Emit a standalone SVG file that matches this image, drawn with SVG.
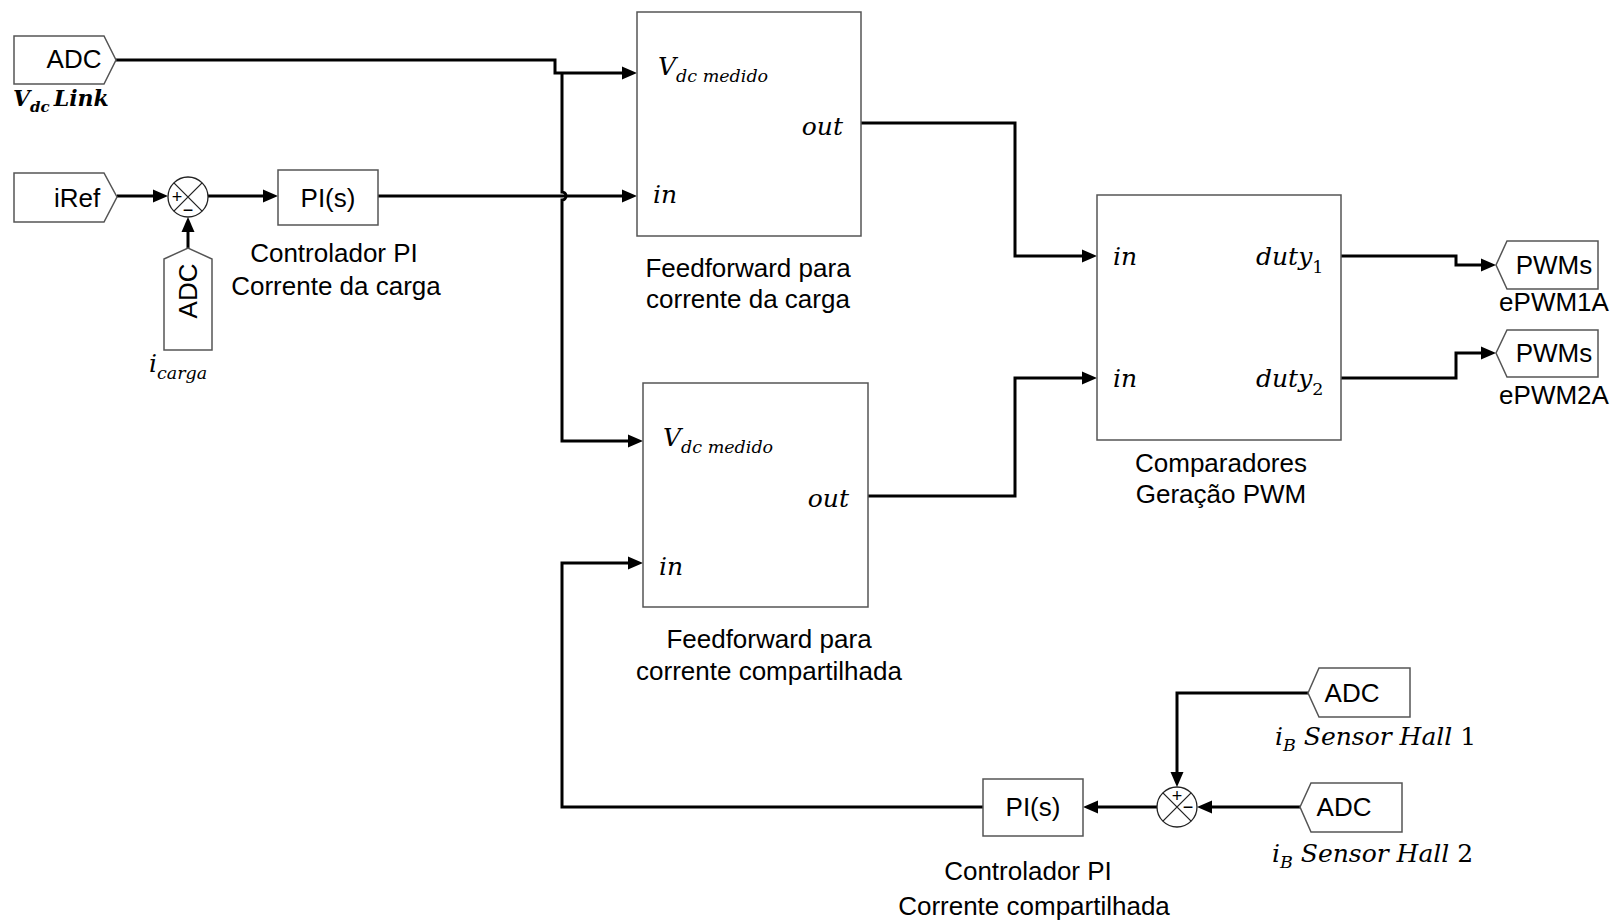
<svg xmlns="http://www.w3.org/2000/svg" width="1616" height="923" viewBox="0 0 1616 923">
<defs>
<marker id="ah" markerWidth="16" markerHeight="14" refX="10" refY="7" orient="auto" markerUnits="userSpaceOnUse"><path d="M0,0.5 L15,7 L0,13.5 z" fill="#000"/></marker>
<style>
.box{fill:#fff;stroke:#555;stroke-width:1.5}
.wire{fill:none;stroke:#000;stroke-width:3}
.arr{marker-end:url(#ah)}
.t{font-family:"Liberation Sans",Arial,sans-serif;font-size:26px;fill:#000}
.c{text-anchor:middle}
.m{font-family:"DejaVu Serif","Liberation Serif",serif;font-style:italic;font-size:25px;fill:#000}
.sub{font-size:17.5px}
.sg{fill:none;stroke:#222;stroke-width:1.3}
.pm{font-family:"Liberation Sans",Arial,sans-serif;font-size:18px;fill:#000;text-anchor:middle}
</style>
</defs>
<rect width="1616" height="923" fill="#fff"/>

<g id="connectors">
<path class="wire arr" d="M116,60 H555 V73 H632"/>
<path class="wire arr" d="M562,73 V192 a4,4 0 0 1 0,8 V441 H638"/>
<path class="wire arr" d="M117,196 H163"/>
<path class="wire arr" d="M188,248 V222"/>
<path class="wire arr" d="M208,196 H273"/>
<path class="wire arr" d="M378,196 H632"/>
<path class="wire arr" d="M861,123 H1015 V256 H1092"/>
<path class="wire arr" d="M868,496 H1015 V378 H1092"/>
<path class="wire arr" d="M1341,256 H1456 V265 H1491"/>
<path class="wire arr" d="M1341,378 H1456 V353 H1491"/>
<path class="wire arr" d="M1308,693 H1177 V782"/>
<path class="wire arr" d="M1300,807 H1202"/>
<path class="wire arr" d="M1157,807 H1088"/>
<path class="wire arr" d="M983,807 H562 V563 H638"/>
</g>

<g id="adc-vdc">
<path class="box" d="M14,36 H104 L116,60 L104,84 H14 Z"/>
<text class="t c" x="74" y="68">ADC</text>
<text x="13" y="106" font-family="DejaVu Serif,Liberation Serif,serif" font-style="italic" font-weight="bold" font-size="22">V<tspan font-size="15" dy="6">dc</tspan><tspan dy="-6" dx="4">Link</tspan></text>
</g>

<g id="iref">
<path class="box" d="M14,173 H104 L117,197 L104,222 H14 Z"/>
<text class="t c" x="77" y="207">iRef</text>
</g>

<g id="sum1">
<circle class="sg" cx="188" cy="197" r="20"/>
<path class="sg" d="M173.9,182.9 L202.1,211.1 M202.1,182.9 L173.9,211.1"/>
<text class="pm" x="177" y="203">+</text>
<text class="pm" x="188" y="216">−</text>
</g>

<g id="adc-icarga">
<path class="box" d="M164,259 L188,248 L212,259 V350 H164 Z"/>
<text class="t c" transform="translate(197,291) rotate(-90)">ADC</text>
<text class="m" x="149" y="372">i<tspan class="sub" dy="7">carga</tspan></text>
</g>

<g id="pi1">
<rect class="box" x="278" y="170" width="100" height="55"/>
<text class="t c" x="328" y="207">PI(s)</text>
<text class="t c" x="334" y="262">Controlador PI</text>
<text class="t c" x="336" y="295">Corrente da carga</text>
</g>

<g id="ff1">
<rect class="box" x="637" y="12" width="224" height="224"/>
<text class="m" x="658" y="75">V<tspan class="sub" dy="7">dc medido</tspan></text>
<text class="m" x="843" y="135" text-anchor="end">out</text>
<text class="m" x="653" y="203">in</text>
<text class="t c" x="748" y="277">Feedforward para</text>
<text class="t c" x="748" y="308">corrente da carga</text>
</g>

<g id="ff2">
<rect class="box" x="643" y="383" width="225" height="224"/>
<text class="m" x="663" y="446">V<tspan class="sub" dy="7">dc medido</tspan></text>
<text class="m" x="849" y="507" text-anchor="end">out</text>
<text class="m" x="659" y="575">in</text>
<text class="t c" x="769" y="648">Feedforward para</text>
<text class="t c" x="769" y="680">corrente compartilhada</text>
</g>

<g id="comparadores">
<rect class="box" x="1097" y="195" width="244" height="245"/>
<text class="m" x="1113" y="265">in</text>
<text class="m" x="1113" y="387">in</text>
<text class="m" x="1256" y="265">duty<tspan class="sub" font-style="normal" dy="8">1</tspan></text>
<text class="m" x="1256" y="387">duty<tspan class="sub" font-style="normal" dy="8">2</tspan></text>
<text class="t c" x="1221" y="472">Comparadores</text>
<text class="t c" x="1221" y="503">Geração PWM</text>
</g>

<g id="pwm1">
<path class="box" d="M1496,265 L1507,241 H1598 V289 H1507 Z"/>
<text class="t c" x="1554" y="274">PWMs</text>
<text class="t c" x="1554" y="311">ePWM1A</text>
</g>

<g id="pwm2">
<path class="box" d="M1496,353 L1507,330 H1598 V377 H1507 Z"/>
<text class="t c" x="1554" y="362">PWMs</text>
<text class="t c" x="1554" y="404">ePWM2A</text>
</g>

<g id="adc-hall1">
<path class="box" d="M1308,693 L1319,668 H1410 V717 H1319 Z"/>
<text class="t c" x="1352" y="702">ADC</text>
<text class="m" x="1275" y="745">i<tspan class="sub" dy="6">B</tspan><tspan dy="-6"> Sensor Hall</tspan><tspan font-style="normal"> 1</tspan></text>
</g>

<g id="adc-hall2">
<path class="box" d="M1300,807 L1311,783 H1402 V832 H1311 Z"/>
<text class="t c" x="1344" y="816">ADC</text>
<text class="m" x="1272" y="862">i<tspan class="sub" dy="6">B</tspan><tspan dy="-6"> Sensor Hall</tspan><tspan font-style="normal"> 2</tspan></text>
</g>

<g id="sum2">
<circle class="sg" cx="1177" cy="807" r="20"/>
<path class="sg" d="M1162.9,792.9 L1191.1,821.1 M1191.1,792.9 L1162.9,821.1"/>
<text class="pm" x="1177" y="802">+</text>
<text class="pm" x="1188" y="813">−</text>
</g>

<g id="pi2">
<rect class="box" x="983" y="779" width="100" height="57"/>
<text class="t c" x="1033" y="816">PI(s)</text>
<text class="t c" x="1028" y="880">Controlador PI</text>
<text class="t c" x="1034" y="915">Corrente compartilhada</text>
</g>
</svg>
